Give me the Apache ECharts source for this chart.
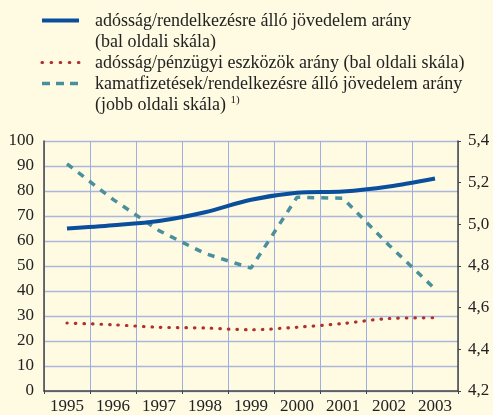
<!DOCTYPE html>
<html>
<head>
<meta charset="utf-8">
<script src="https://cdn.jsdelivr.net/npm/echarts@6/dist/echarts.min.js"></script>
<style>
  html, body { margin: 0; padding: 0; background: #fffbe3; }
  #chart { width: 493px; height: 415px; }
</style>
</head>
<body>
<div id="chart"></div>
<script>
// adatok
var years = ['1995', '1996', '1997', '1998', '1999', '2000', '2001', '2002', '2003'];
var adossagJovedelem = [65, 66.3, 68, 71.5, 76.5, 79.3, 79.8, 81.8, 85];
var adossagEszkozok = [27.2, 26.5, 25.5, 25.2, 24.5, 25.5, 27, 29, 29.3];
var kamatfizetesek = [5.29, 5.12, 4.97, 4.86, 4.79, 5.13, 5.125, 4.9, 4.69];
var nevek = [
  'adósság/rendelkezésre álló jövedelem arány\n(bal oldali skála)',
  'adósság/pénzügyi eszközök arány (bal oldali skála)',
  'kamatfizetések/rendelkezésre álló jövedelem arány\n(jobb oldali skála) {sup|1)}'
];

var kek = '#0a4f9c', piros = '#b0302c', zold = '#4a8f9c';
var betu = 'Liberation Serif';

var myChart = echarts.init(document.getElementById('chart'));

// jelmagyarazat szovege
function felirat(szoveg, top) {
  return {
    type: 'text', left: 95, top: top,
    style: {
      text: szoveg, fontSize: 18, fontFamily: betu, fill: '#222', lineHeight: 21,
      rich: { sup: { fontSize: 11, fontFamily: betu, fill: '#222', verticalAlign: 'top', lineHeight: 21, padding: [0, 0, 6, 0] } }
    }
  };
}

var option = {
  backgroundColor: '#fffbe3',
  animation: false,
  textStyle: { fontFamily: betu },
  grid: { left: 44, right: 35, top: 141, bottom: 23 },
  xAxis: {
    type: 'category',
    data: years,
    boundaryGap: true,
    axisLine: { lineStyle: { color: '#444', width: 1.5 } },
    axisTick: { show: true, length: 3, lineStyle: { color: '#444' } },
    axisLabel: { color: '#222', fontSize: 17, fontFamily: betu, margin: 7 },
    splitLine: { show: true, lineStyle: { color: '#9eaee2', width: 1 } }
  },
  yAxis: [
    {
      type: 'value', min: 0, max: 100, interval: 10,
      axisLine: { show: true, lineStyle: { color: '#444', width: 1.5 } },
      axisTick: { show: false },
      axisLabel: { color: '#222', fontSize: 17, fontFamily: betu, margin: 10 },
      splitLine: { lineStyle: { color: '#aab6dc', width: 1.3 } }
    },
    {
      type: 'value', min: 4.2, max: 5.4, interval: 0.2,
      axisLine: { show: true, lineStyle: { color: '#444', width: 1.5 } },
      axisTick: { show: true, length: 3, lineStyle: { color: '#444' } },
      axisLabel: {
        color: '#222', fontSize: 17, fontFamily: betu, margin: 10,
        formatter: function (v) { return v.toFixed(1).replace('.', ','); }
      },
      splitLine: { show: false }
    }
  ],
  graphic: [
    { type: 'line', shape: { x1: 42, y1: 20.5, x2: 79, y2: 20.5 }, style: { stroke: kek, lineWidth: 4 } },
    { type: 'line', shape: { x1: 42, y1: 62.5, x2: 80, y2: 62.5 }, style: { stroke: piros, lineWidth: 3.2, lineCap: 'round', lineDash: [0.5, 8.6] } },
    { type: 'line', shape: { x1: 42, y1: 83.5, x2: 79, y2: 83.5 }, style: { stroke: zold, lineWidth: 3.5, lineDash: [8, 6] } },
    felirat(nevek[0], 11),
    felirat(nevek[1], 53),
    felirat(nevek[2], 74)
  ],
  series: [
    {
      name: nevek[1], type: 'line', yAxisIndex: 0, data: adossagEszkozok,
      smooth: 0.3, showSymbol: false,
      lineStyle: { color: piros, width: 3.2, cap: 'round', type: [0.5, 8] }
    },
    {
      name: nevek[2], type: 'line', yAxisIndex: 1, data: kamatfizetesek,
      smooth: false, showSymbol: false,
      lineStyle: { color: zold, width: 3.5, type: [7, 7] }
    },
    {
      name: nevek[0], type: 'line', yAxisIndex: 0, data: adossagJovedelem,
      smooth: 0.3, showSymbol: false,
      lineStyle: { color: kek, width: 4 }
    }
  ]
};

myChart.setOption(option);
</script>
</body>
</html>
